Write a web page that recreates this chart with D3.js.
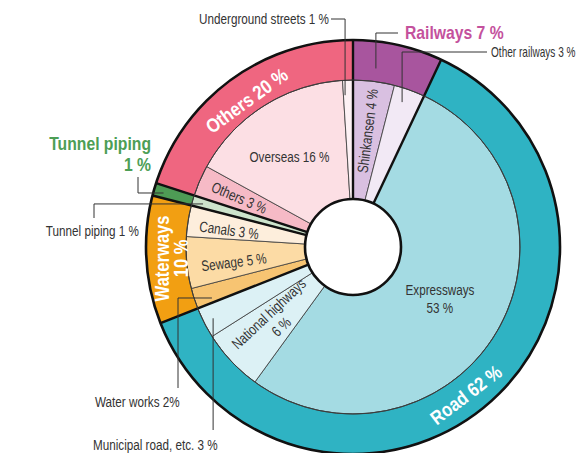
<!DOCTYPE html>
<html>
<head>
<meta charset="utf-8">
<script src="https://cdn.jsdelivr.net/npm/d3@7"></script>
<style>
  html, body { margin: 0; padding: 0; background: #fff; }
  svg { display: block; }
  text { font-family: "Liberation Sans", Arial, Helvetica, sans-serif; }
</style>
</head>
<body>
<svg id="chart" width="577" height="453"></svg>
<script>
// Outer ring: main categories (percent)
const groups = ["Railways", "Road", "Waterways", "Tunnel piping", "Others"];
const groupValues = [7, 62, 10, 1, 20];
const groupColors = ["#a8559e", "#2fb3c3", "#f29f12", "#4e9b55", "#ef6680"];

// Inner ring: breakdown of each category (percent)
const items = ["Shinkansen", "Other railways", "Expressways", "National highways",
  "Municipal road, etc.", "Water works", "Sewage", "Canals", "Tunnel piping",
  "Others", "Overseas", "Underground streets"];
const itemValues = [4, 3, 53, 6, 3, 2, 5, 3, 1, 3, 16, 1];
const itemColors = ["#d9c0e1", "#f2e9f5", "#a4dbe3", "#dcf1f5", "#dcf1f5", "#f7c472",
  "#fcdba5", "#fdeedc", "#cde4cc", "#f6bac6", "#fcdfe4", "#fdf1f4"];

const svg = d3.select("#chart");
const cx = 353, cy = 247;
const rHole = 48, rMid = 167, rOuter = 207;
const g = svg.append("g").attr("transform", `translate(${cx},${cy})`);

// narrow lettering: text is squeezed horizontally
const SQ_REG = 0.78, SQ_BOLD = 0.85;

const pie = d3.pie().sort(null).value(d => d);
const outerArcs = pie(groupValues);
const innerArcs = pie(itemValues);

const innerArc = d3.arc().innerRadius(rHole).outerRadius(rMid);
const outerArc = d3.arc().innerRadius(rMid).outerRadius(rOuter);

// slices
g.append("g").selectAll("path").data(innerArcs).join("path")
  .attr("d", innerArc)
  .attr("fill", (d, i) => itemColors[i])
  .attr("stroke", "#3a3a3a").attr("stroke-width", 0.8);

g.append("g").selectAll("path").data(outerArcs).join("path")
  .attr("d", outerArc)
  .attr("fill", (d, i) => groupColors[i])
  .attr("stroke", "#3a3a3a").attr("stroke-width", 0.8);

// heavy separators between main categories
g.append("g").selectAll("line").data(outerArcs).join("line")
  .each(function (d) {
    const p0 = d3.pointRadial(d.startAngle, rHole);
    const p1 = d3.pointRadial(d.startAngle, rOuter);
    d3.select(this).attr("x1", p0[0]).attr("y1", p0[1]).attr("x2", p1[0]).attr("y2", p1[1]);
  })
  .attr("stroke", "#111").attr("stroke-width", 2.4);

// rims
g.append("circle").attr("r", rOuter).attr("fill", "none").attr("stroke", "#111").attr("stroke-width", 2.6);
g.append("circle").attr("r", rMid).attr("fill", "none").attr("stroke", "#3a3a3a").attr("stroke-width", 0.9);
g.append("circle").attr("r", rHole).attr("fill", "#fff").attr("stroke", "#111").attr("stroke-width", 2.6);

const deg = a => a * 180 / Math.PI;
const angleAt = (d, t) => d.startAngle + (d.endAngle - d.startAngle) * t;

function rotation(mode, a) {
  const d = deg(a);
  if (mode === "radialUp") return d - 90;
  if (mode === "radialLeft") return d - 270;
  if (mode === "tangentTop") return d - 360;
  if (mode === "tangentBottom") return d - 180;
  if (mode === "vertical") return -90;
  return 0;
}

function placeLabel(sel, arc, t, r, mode, lines, opts) {
  const a = angleAt(arc, t);
  const [x, y] = d3.pointRadial(a, r);
  const lh = opts.lineHeight;
  const tx = sel.append("text")
    .attr("transform", `translate(${x},${y}) rotate(${rotation(mode, a)}) scale(${opts.squeeze},1)`)
    .attr("text-anchor", "middle")
    .attr("fill", opts.fill)
    .attr("font-size", opts.size)
    .attr("font-weight", opts.weight);
  lines.forEach((s, k) => {
    tx.append("tspan").attr("x", 0)
      .attr("y", (k - (lines.length - 1) / 2) * lh)
      .attr("dy", "0.35em").text(s);
  });
}

// labels inside the inner ring
const innerLabels = [
  { i: 0, t: 0.5, r: 117, rot: "radialUp", lines: ["Shinkansen 4 %"] },
  { i: 2, t: 0.5, r: 101, rot: "none", lines: ["Expressways", "53 %"] },
  { i: 3, t: 0.5, r: 107, rot: "radialLeft", lines: ["National highways", "6 %"] },
  { i: 6, t: 0.4, r: 120, rot: "radialLeft", lines: ["Sewage 5 %"] },
  { i: 7, t: 0.38, r: 125, rot: "radialLeft", lines: ["Canals 3 %"] },
  { i: 9, t: 0.5, r: 124, rot: "radialLeft", lines: ["Others 3 %"] },
  { i: 10, t: 0.45, r: 110, rot: "none", lines: ["Overseas 16 %"] }
];
innerLabels.forEach(l => placeLabel(g, innerArcs[l.i], l.t, l.r, l.rot, l.lines,
  { fill: "#333", size: 15, weight: "normal", lineHeight: 18, squeeze: SQ_REG }));

// labels on the outer ring
const outerLabels = [
  { i: 1, t: 0.526, r: 186, rot: "tangentBottom", lines: ["Road 62 %"] },
  { i: 2, t: 0.5, r: 182, rot: "vertical", lines: ["Waterways", "10 %"] },
  { i: 4, t: 0.5, r: 181, rot: "tangentTop", lines: ["Others 20 %"] }
];
outerLabels.forEach(l => placeLabel(g, outerArcs[l.i], l.t, l.r, l.rot, l.lines,
  { fill: "#fff", size: 19.5, weight: "bold", lineHeight: 19, squeeze: SQ_BOLD }));

// call-outs with leader lines
const callouts = [
  { ring: "inner", i: 11, t: 0.17, r: 152, from: [331, 19], mode: "hv",
    text: [{ s: "Underground streets 1 %", x: 329, y: 24, anchor: "end" }] },
  { ring: "outer", i: 0, t: 0.29, r: 180, from: [398, 33], mode: "hv",
    text: [{ s: "Railways 7 %", x: 405, y: 39, anchor: "start", bold: true, fill: "#c4519d" }] },
  { ring: "inner", i: 1, t: 0.4, r: 153, from: [487, 52], mode: "hv",
    text: [{ s: "Other railways 3 %", x: 491, y: 57, anchor: "start", size: 14, squeeze: 0.72 }] },
  { ring: "outer", i: 3, t: 0.42, r: 197, from: [138, 177], mode: "vh",
    text: [{ s: "Tunnel piping", x: 151, y: 150, anchor: "end", bold: true, fill: "#4d9e55" },
           { s: "1 %", x: 151, y: 171, anchor: "end", bold: true, fill: "#4d9e55" }] },
  { ring: "inner", i: 8, t: 0.45, r: 156, from: [94, 218], mode: "vh",
    text: [{ s: "Tunnel piping 1 %", x: 139, y: 236, anchor: "end" }] },
  { ring: "inner", i: 5, t: 0.24, r: 150, from: [178, 388], mode: "vh",
    text: [{ s: "Water works 2%", x: 95, y: 407, anchor: "start" }] },
  { ring: "inner", i: 4, t: 0.5, r: 157, from: [null, 430], mode: "v",
    text: [{ s: "Municipal road, etc. 3 %", x: 93, y: 450, anchor: "start" }] }
];

const ann = svg.append("g");
callouts.forEach(c => {
  const arc = (c.ring === "inner" ? innerArcs : outerArcs)[c.i];
  const [px, py] = d3.pointRadial(angleAt(arc, c.t), c.r);
  const ex = cx + px, ey = cy + py;
  const path = d3.path();
  if (c.mode === "hv") {
    path.moveTo(c.from[0], c.from[1]); path.lineTo(ex, c.from[1]); path.lineTo(ex, ey);
  } else if (c.mode === "vh") {
    path.moveTo(c.from[0], c.from[1]); path.lineTo(c.from[0], ey); path.lineTo(ex, ey);
  } else {
    path.moveTo(ex, c.from[1]); path.lineTo(ex, ey);
  }
  ann.append("path").attr("d", path.toString())
    .attr("fill", "none").attr("stroke", "#333").attr("stroke-width", 1);
  c.text.forEach(t => {
    const sq = t.squeeze || (t.bold ? SQ_BOLD : SQ_REG);
    ann.append("text")
      .attr("transform", `translate(${t.x},${t.y}) scale(${sq},1)`)
      .attr("text-anchor", t.anchor)
      .attr("font-size", t.size || (t.bold ? 18.5 : 15))
      .attr("font-weight", t.bold ? "bold" : "normal")
      .attr("fill", t.fill || "#333")
      .text(t.s);
  });
});
</script>
</body>
</html>
